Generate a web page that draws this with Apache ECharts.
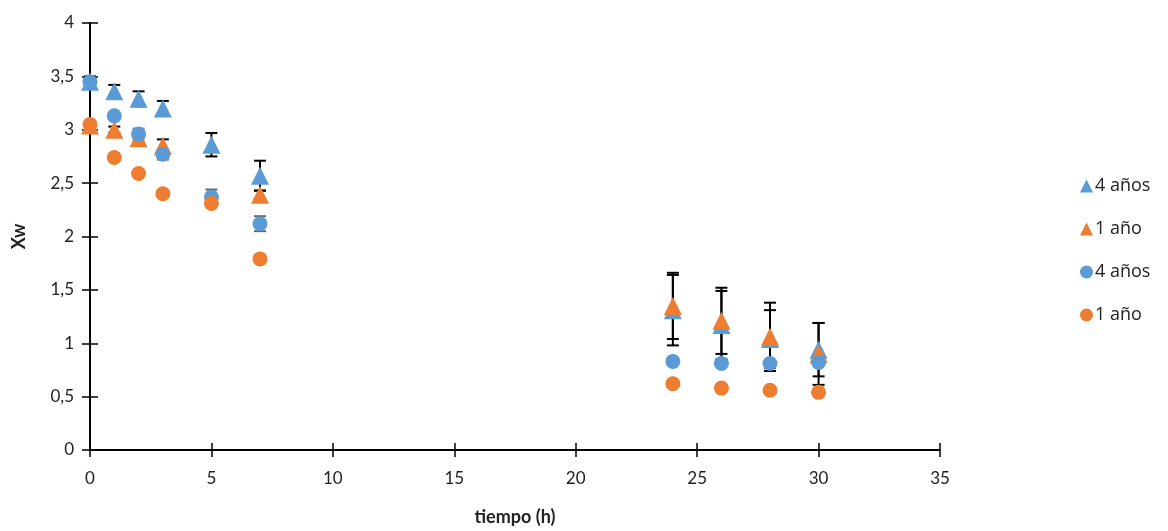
<!DOCTYPE html>
<html>
<head>
<meta charset="utf-8">
<script src="https://cdn.jsdelivr.net/npm/echarts@6/dist/echarts.min.js"></script>
<style>
  html, body { margin: 0; padding: 0; background: #fff; }
  #chart { width: 1168px; height: 531px; }
</style>
</head>
<body>
<div id="chart"></div>
<script>
// tiempo (h)
const tiempo = [0, 1, 2, 3, 5, 7, 24, 26, 28, 30];

// triángulos
const tri4 = [3.45, 3.36, 3.29, 3.20, 2.86, 2.57, 1.31, 1.17, 1.04, 0.94];
const tri4Err = [0.05, 0.06, 0.07, 0.07, 0.11, 0.14, 0.33, 0.32, 0.27, 0.25];
const tri1 = [3.04, 3.00, 2.92, 2.85, null, 2.39, 1.35, 1.21, 1.06, 0.90];
const tri1Err = [0.03, 0.03, 0.04, 0.06, 0, 0.04, 0.31, 0.31, 0.32, 0.29];

// círculos
const circ4 = [3.45, 3.13, 2.96, 2.77, 2.37, 2.12, 0.83, 0.81, 0.81, 0.82];
const circ4Err = [0.02, 0.02, 0.05, 0.05, 0.07, 0.07, 0.01, 0.01, 0.01, 0.01];
const circ1 = [3.05, 2.74, 2.59, 2.40, 2.31, 1.79, 0.62, 0.58, 0.56, 0.54];
const circ1Err = [0.01, 0.01, 0.01, 0.01, 0.01, 0.01, 0.01, 0.01, 0.01, 0.01];

const names = ['4 años', '1 año'];
const BLUE = '#5B9BD5', ORANGE = '#ED7D31';
const FONT = 'Lato, "Open Sans", sans-serif';

const pts = ys => tiempo.map((t, i) => [t, ys[i] == null ? '-' : ys[i]]).filter(p => p[1] !== '-');
const errData = (ys, es) => tiempo.map((t, i) => ys[i] == null ? null : [t, ys[i] - es[i], ys[i] + es[i]]).filter(Boolean);

// barras de error (custom series)
function errorBars(data, color) {
  return {
    type: 'custom',
    silent: true,
    z: 1,
    clip: false,
    renderItem(params, api) {
      const x = api.value(0);
      const hi = api.coord([x, api.value(2)]);
      const lo = api.coord([x, api.value(1)]);
      const w = 6;
      const st = { stroke: color, lineWidth: 2 };
      return {
        type: 'group',
        children: [
          { type: 'line', shape: { x1: hi[0], y1: hi[1], x2: lo[0], y2: lo[1] }, style: st },
          { type: 'line', shape: { x1: hi[0] - w, y1: hi[1], x2: hi[0] + w, y2: hi[1] }, style: st },
          { type: 'line', shape: { x1: lo[0] - w, y1: lo[1], x2: lo[0] + w, y2: lo[1] }, style: st }
        ]
      };
    },
    data: data
  };
}

const axisStyle = { lineStyle: { color: '#000', width: 2 } };
const labelStyle = { color: '#222', fontSize: 17, fontFamily: FONT };

const chart = echarts.init(document.getElementById('chart'));
chart.setOption({
  animation: false,
  grid: { left: 90, right: 228, top: 23, bottom: 80 },
  legend: {
    orient: 'vertical',
    left: 1075,
    top: 172,
    itemGap: 25,
    itemWidth: 13,
    itemHeight: 13,
    textStyle: { fontSize: 18, color: '#222', fontFamily: '"Open Sans", sans-serif', padding: [0, 0, 0, -3] },
    data: [
      { name: names[0], icon: 'triangle' },
      { name: names[1], icon: 'triangle' },
      { name: names[0] + ' ', icon: 'circle' },
      { name: names[1] + ' ', icon: 'circle' }
    ]
  },
  xAxis: [
    {
      type: 'value', min: 0, max: 35, interval: 5,
      name: 'tiempo (h)', nameLocation: 'middle', nameGap: 58,
      nameTextStyle: { fontSize: 18, fontWeight: 'bold', color: '#222', fontFamily: FONT },
      axisLine: axisStyle,
      axisTick: { length: 7, lineStyle: { color: '#000', width: 1.5 } },
      axisLabel: Object.assign({ margin: 20 }, labelStyle),
      splitLine: { show: false }
    },
    {
      type: 'value', min: 0, max: 35, interval: 5, position: 'bottom',
      axisLine: { show: false },
      axisTick: { inside: true, length: 7, lineStyle: { color: '#000', width: 1.5 } },
      axisLabel: { show: false },
      splitLine: { show: false }
    }
  ],
  yAxis: [
    {
      type: 'value', min: 0, max: 4, interval: 0.5,
      name: 'Xw', nameLocation: 'middle', nameGap: 62,
      nameTextStyle: { fontSize: 18, fontWeight: 'bold', color: '#222', fontFamily: FONT },
      axisLine: axisStyle,
      axisTick: { length: 8, lineStyle: { color: '#000', width: 1.5 } },
      axisLabel: Object.assign({ margin: 16, formatter: v => String(v).replace('.', ',') }, labelStyle),
      splitLine: { show: false }
    },
    {
      type: 'value', min: 0, max: 4, interval: 0.5, position: 'left',
      axisLine: { show: false },
      axisTick: { inside: true, length: 8, lineStyle: { color: '#000', width: 1.5 } },
      axisLabel: { show: false },
      splitLine: { show: false }
    }
  ],
  series: [
    errorBars(errData(tri4, tri4Err), '#000'),
    errorBars(errData(tri1, tri1Err), '#000'),
    errorBars(errData(circ4, circ4Err), '#666'),
    errorBars(errData(circ1, circ1Err), '#666'),
    { name: names[0], type: 'scatter', symbol: 'triangle', symbolSize: 18, clip: false, z: 3,
      itemStyle: { color: BLUE, opacity: 1 }, data: pts(tri4) },
    { name: names[1], type: 'scatter', symbol: 'triangle', symbolSize: 18, clip: false, z: 3,
      itemStyle: { color: ORANGE, opacity: 1 }, data: pts(tri1) },
    { name: names[0] + ' ', type: 'scatter', symbol: 'circle', symbolSize: 15, clip: false, z: 3,
      itemStyle: { color: BLUE, opacity: 1 }, data: pts(circ4) },
    { name: names[1] + ' ', type: 'scatter', symbol: 'circle', symbolSize: 15, clip: false, z: 3,
      itemStyle: { color: ORANGE, opacity: 1 }, data: pts(circ1) }
  ]
});
</script>
</body>
</html>
